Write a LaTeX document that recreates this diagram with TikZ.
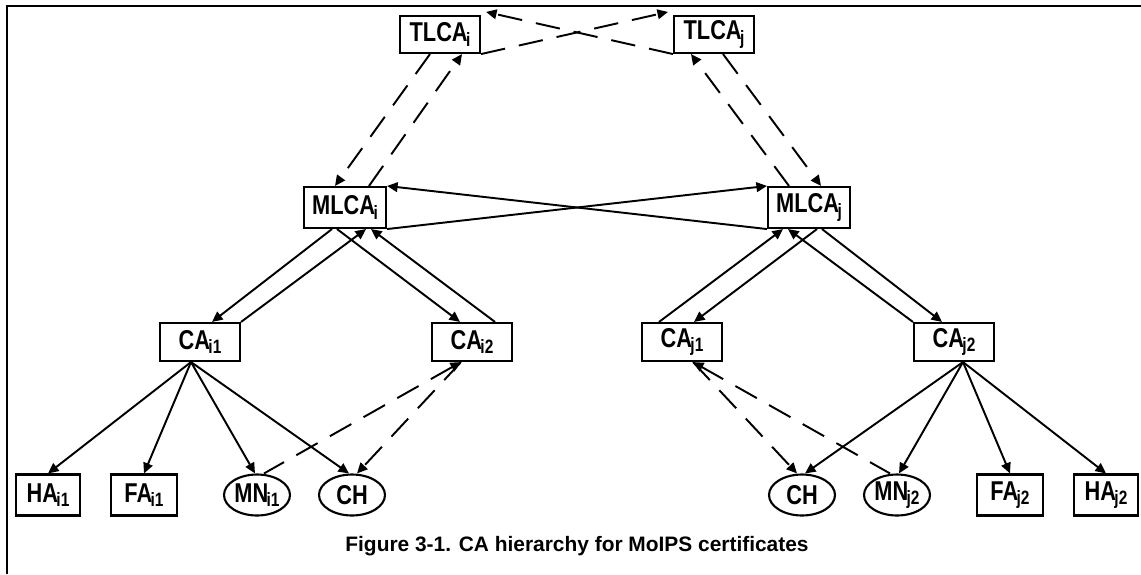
\documentclass[tikz,border=0pt]{standalone}
\usepackage{fontspec}
\setmainfont{Liberation Sans}
\newfontfamily\boxfont[FakeStretch=0.8]{Liberation Sans}
\usetikzlibrary{shapes.geometric,arrows.meta,calc}

\newcommand{\lsub}[1]{\kern-0.06em\raisebox{-2.6pt}{\fontsize{11}{11}\selectfont #1}}

\begin{document}
\begin{tikzpicture}[x=0.02cm, y=-0.02cm,
		certBox/.style={rectangle, draw, line width=1.2pt, inner sep=0pt, font=\boxfont\bfseries\fontsize{15.5}{16}\selectfont},
		leafEll/.style={ellipse, draw, line width=1.2pt, inner sep=0pt, minimum width=1.32cm, minimum height=0.82cm, font=\boxfont\bfseries\fontsize{15.5}{16}\selectfont},
		solidArr/.style={line width=1.1pt, -{Triangle[length=6pt,width=5.5pt]}},
		dashArr/.style={solidArr, dash pattern=on 14pt off 8pt}]
		\useasboundingbox (0,0) rectangle (1141,574);
		\draw[line width=1.7pt] (7,574) -- (7,6) -- (1141,6);

		% top and middle level
		\node[certBox, minimum width=1.6cm, minimum height=0.74cm](tlcaI) at (440,34.5){TLCA\lsub{i}};
		\node[certBox, minimum width=1.6cm, minimum height=0.74cm](tlcaJ) at (714,34.5){TLCA\lsub{j}};
		\node[certBox, minimum width=1.64cm, minimum height=0.82cm](mlcaI) at (345,207.5){MLCA\lsub{i}};
		\node[certBox, minimum width=1.64cm, minimum height=0.82cm](mlcaJ) at (809,207.5){MLCA\lsub{j}};

		\node[certBox, minimum width=1.6cm, minimum height=0.76cm](caI1) at (200,342){CA\lsub{i1}};
		\node[certBox, minimum width=1.6cm, minimum height=0.76cm](caI2) at (472,342){CA\lsub{i2}};
		\node[certBox, minimum width=1.6cm, minimum height=0.76cm](caJ1) at (682,342){CA\lsub{j1}};
		\node[certBox, minimum width=1.6cm, minimum height=0.76cm](caJ2) at (954,342){CA\lsub{j2}};

		% leaves
		\node[certBox, minimum width=1.28cm, minimum height=0.82cm](haI1) at (48,495){HA\lsub{i1}};
		\node[certBox, minimum width=1.32cm, minimum height=0.82cm](faI1) at (144,495){FA\lsub{i1}};
		\node[leafEll](mnI1) at (257,495){MN\lsub{i1}};
		\node[leafEll](chI) at (352,495){CH};
		\node[leafEll](chJ) at (802,495){CH};
		\node[leafEll](mnJ2) at (897,495){MN\lsub{j2}};
		\node[certBox, minimum width=1.32cm, minimum height=0.82cm](faJ2) at (1010,495){FA\lsub{j2}};
		\node[certBox, minimum width=1.28cm, minimum height=0.82cm](haJ2) at (1106,495){HA\lsub{j2}};

		\node[font=\bfseries\fontsize{11.9}{12}\selectfont](caption) at (577,546){Figure 3-1. CA hierarchy for MoIPS certificates};

		% cross certification between the roots
		\draw[dashArr] (tlcaI.south east) -- ($(tlcaJ.north west)+(-5,-3)$);
		\draw[dashArr] (tlcaJ.south west) -- ($(tlcaI.north east)+(5,-3)$);
		\draw[dashArr] ($(tlcaI.south)+(-10,0)$) -- ($(mlcaI.north)+(-10,0)$);
		\draw[dashArr] ($(mlcaI.north)+(24,0)$) -- ($(tlcaI.south)+(22,0)$);
		\draw[dashArr] ($(tlcaJ.south)+(9,0)$) -- ($(mlcaJ.north)+(12,0)$);
		\draw[dashArr] ($(mlcaJ.north)+(-20,0)$) -- ($(tlcaJ.south)+(-23,0)$);

		\draw[solidArr] (mlcaI.south east) -- (mlcaJ.north west);
		\draw[solidArr] (mlcaJ.south west) -- (mlcaI.north east);

		\draw[solidArr] ($(mlcaI.south)+(-13,0)$) -- ($(caI1.north)+(12,0)$);
		\draw[solidArr] (caI1.north east) -- ($(mlcaI.south)+(21,0)$);
		\draw[solidArr] ($(mlcaI.south)+(-8,0)$) -- ($(caI2.north)+(-12,0)$);
		\draw[solidArr] ($(caI2.north)+(23,0)$) -- ($(mlcaI.south)+(26,0)$);
		\draw[solidArr] ($(mlcaJ.south)+(13,0)$) -- ($(caJ2.north)+(-12,0)$);
		\draw[solidArr] (caJ2.north west) -- ($(mlcaJ.south)+(-21,0)$);
		\draw[solidArr] ($(mlcaJ.south)+(8,0)$) -- ($(caJ1.north)+(12,0)$);
		\draw[solidArr] ($(caJ1.north)+(-23,0)$) -- ($(mlcaJ.south)+(-26,0)$);

		% issuing CAs down to the leaves
		\coordinate (fanI) at ($(caI1.south)+(-9,0)$);
		\coordinate (fanJ) at ($(caJ2.south)+(9,0)$);
		\foreach \leaf/\dx in {haI1/0, faI1/0, mnI1/-2, chI/-3}
			\draw[solidArr] (fanI) -- ($(\leaf.north)+(\dx,0)$);
		\foreach \leaf/\dx in {haJ2/0, faJ2/0, mnJ2/2, chJ/3}
			\draw[solidArr] (fanJ) -- ($(\leaf.north)+(\dx,0)$);

		\draw[dashArr, {Triangle[length=6pt,width=5.5pt]}-] ($(caI2.south)+(-11,0)$) -- ($(mnI1.north)+(7,0)$);
		\draw[dashArr] ($(caI2.south)+(-11,0)$) -- ($(chI.north)+(5,0)$);
		\draw[dashArr, {Triangle[length=6pt,width=5.5pt]}-] ($(caJ1.south)+(11,0)$) -- ($(mnJ2.north)+(-7,0)$);
		\draw[dashArr] ($(caJ1.south)+(11,0)$) -- ($(chJ.north)+(-5,0)$);
	\end{tikzpicture}
\end{document}
